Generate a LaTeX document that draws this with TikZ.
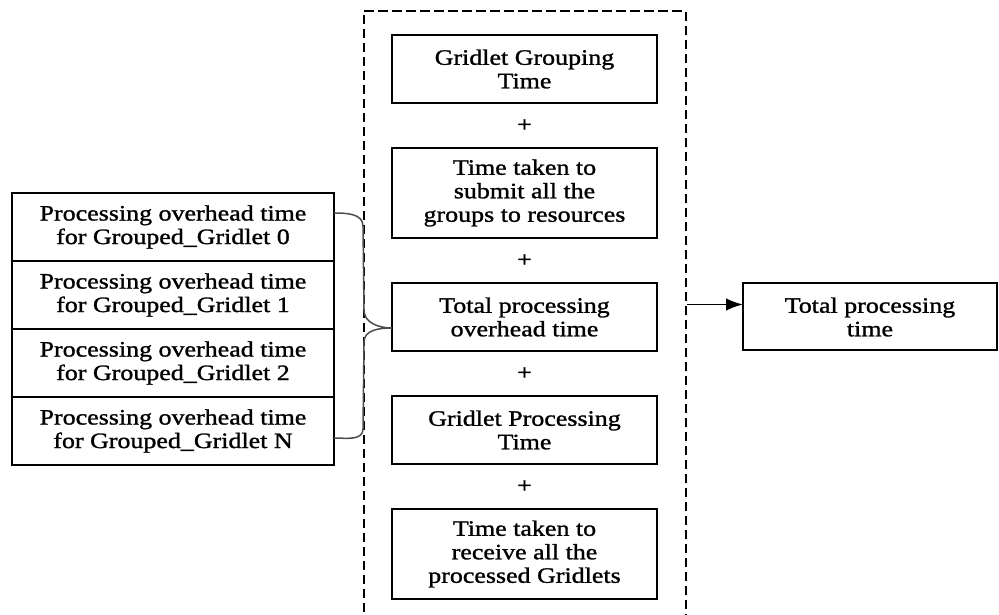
\documentclass[tikz,border=0pt]{standalone}
\usepackage{fontspec}
\setmainfont[FakeStretch=1.18, FakeBold=1.2]{Liberation Serif}
\usepackage{tikz}
\usetikzlibrary{arrows.meta, positioning, fit, calc}
\tikzset{
    block/.style={rectangle, draw=black, line width=0.8pt, outer sep=0pt, text centered, align=center, minimum width=106pt, minimum height=27.2pt, font=\fontsize{8.8}{9.4}\selectfont},
    tallblock/.style={block, minimum height=36pt},
    overheadbox/.style={block, minimum width=128.8pt, minimum height=27.2pt},
    resultbox/.style={block, minimum width=101.6pt, minimum height=26.8pt},
    sumsign/.style={inner sep=0pt, font=\fontsize{8.8}{9.4}\selectfont},
    groupframe/.style={draw=black, line width=0.8pt, dash pattern=on 3.8pt off 1.8pt, inner xsep=11.4pt, inner ysep=9.6pt},
    arrow/.style={line width=0.7pt, -{Latex[length=6.8pt, width=5pt]}},
    bracepath/.style={line width=0.6pt, black!70}
}
\begin{document}
\begin{tikzpicture}[node distance=18pt]
    \useasboundingbox (0,0) rectangle (399.6pt,-246pt);
    \clip (0,0) rectangle (399.6pt,-246pt);
    % Middle column
    \node (grouping) [block] at (209.8pt,-27.6pt) {Gridlet Grouping\\Time};
    \node (submit) [tallblock, below=of grouping] {Time taken to\\submit all the\\groups to resources};
    \node (overhead) [block, below=of submit] {Total processing\\overhead time};
    \node (gridproc) [block, below=of overhead] {Gridlet Processing\\Time};
    \node (receive) [tallblock, below=of gridproc] {Time taken to\\receive all the\\processed Gridlets};
    % Plus signs
    \node (plus1) [sumsign] at ($(grouping.south)!0.5!(submit.north)$) {+};
    \node (plus2) [sumsign] at ($(submit.south)!0.5!(overhead.north)$) {+};
    \node (plus3) [sumsign] at ($(overhead.south)!0.5!(gridproc.north)$) {+};
    \node (plus4) [sumsign] at ($(gridproc.south)!0.5!(receive.north)$) {+};
    % Dashed group
    \node (frame) [groupframe, fit=(grouping)(receive)] {};
    % Left column
    \node (ovh0) [overheadbox] at (69.2pt,-90.8pt) {Processing overhead time\\for Grouped\_Gridlet 0};
    \node (ovh1) [overheadbox, below=0pt of ovh0] {Processing overhead time\\for Grouped\_Gridlet 1};
    \node (ovh2) [overheadbox, below=0pt of ovh1] {Processing overhead time\\for Grouped\_Gridlet 2};
    \node (ovhN) [overheadbox, below=0pt of ovh2] {Processing overhead time\\for Grouped\_Gridlet N};
    % Right box
    \node (total) [resultbox, right=34.4pt of overhead] {Total processing\\time};
    % Brace
    \coordinate (bracetop) at ([yshift=5.6pt]ovh0.east);
    \coordinate (bracetip) at ([yshift=-4.4pt]overhead.west);
    \coordinate (bracebot) at ([yshift=-2.8pt]ovhN.east);
    \draw [bracepath] (bracetop) to[out=0, in=90] ++(11.6pt,-5.2pt) -- ($(bracetip)+(-11.2pt,7.2pt)$) to[out=-90, in=180] (bracetip) to[out=180, in=90] ++(-11.2pt,-5.6pt) -- ($(bracebot)+(11.6pt,3.6pt)$) to[out=-90, in=0] (bracebot);
    % Arrow
    \coordinate (arrowend) at ([yshift=5pt]total.west);
    \draw [arrow] (frame.east |- arrowend) -- (arrowend);
\end{tikzpicture}
\end{document}
